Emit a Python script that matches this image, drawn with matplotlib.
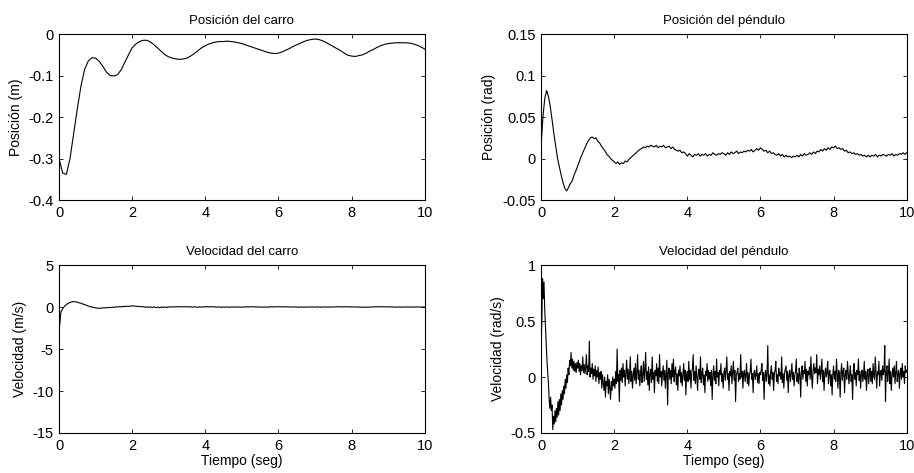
import numpy as np
import matplotlib.pyplot as plt
from matplotlib.ticker import FuncFormatter

plt.rcParams['font.family'] = ['Liberation Sans', 'DejaVu Sans']
plt.rcParams['axes.unicode_minus'] = False

FIGSIZE = (9.14, 4.73)
DPI = 100
TITLE_FS = 9.5
LABEL_FS = 10
TICK_FS = 10.5

# cart position (m), sampled every 0.1 s
cart_pos = [
    -0.300, -0.335, -0.338, -0.300, -0.240, -0.180, -0.125, -0.085, -0.065, -0.057,
    -0.058, -0.066, -0.078, -0.092, -0.100, -0.101, -0.098, -0.086, -0.068, -0.050,
    -0.033, -0.024, -0.018, -0.015, -0.015, -0.019, -0.026, -0.034, -0.042, -0.050,
    -0.055, -0.058, -0.060, -0.061, -0.060, -0.058, -0.053, -0.047, -0.040, -0.033,
    -0.028, -0.024, -0.021, -0.019, -0.018, -0.018, -0.017, -0.018, -0.019, -0.021,
    -0.023, -0.026, -0.029, -0.032, -0.035, -0.038, -0.041, -0.044, -0.046, -0.047,
    -0.046, -0.043, -0.039, -0.035, -0.030, -0.026, -0.022, -0.018, -0.015, -0.013,
    -0.012, -0.013, -0.016, -0.020, -0.025, -0.030, -0.035, -0.040, -0.046, -0.051,
    -0.053, -0.054, -0.052, -0.050, -0.046, -0.041, -0.037, -0.032, -0.028, -0.025,
    -0.023, -0.022, -0.021, -0.021, -0.021, -0.021, -0.022, -0.024, -0.027, -0.031,
    -0.036,
]
t_cart_pos = np.linspace(0, 10, len(cart_pos))

# pendulum position (rad), sampled every 0.05 s
pend_pos = [
    0.015, 0.050, 0.072, 0.082, 0.075, 0.063, 0.047, 0.030, 0.015, 0.000,
    -0.010, -0.020, -0.029, -0.036, -0.039, -0.035, -0.030, -0.027, -0.020, -0.015,
    -0.009, -0.003, 0.003, 0.008, 0.013, 0.018, 0.022, 0.025, 0.026, 0.024,
    0.025, 0.021, 0.019, 0.015, 0.012, 0.009, 0.005, 0.003, 0.000, -0.002,
    -0.004, -0.006, -0.004, -0.007, -0.005, -0.006, -0.003, -0.004, -0.001, 0.001,
    0.003, 0.005, 0.007, 0.009, 0.011, 0.012, 0.014, 0.013, 0.015, 0.014,
    0.016, 0.015, 0.014, 0.016, 0.013, 0.015, 0.014, 0.016, 0.013, 0.014,
    0.015, 0.012, 0.014, 0.011, 0.010, 0.009, 0.010, 0.007, 0.008, 0.006,
    0.003, 0.006, 0.004, 0.002, 0.005, 0.004, 0.006, 0.003, 0.005, 0.004,
    0.006, 0.003, 0.005, 0.004, 0.007, 0.005, 0.004, 0.006, 0.005, 0.007,
    0.006, 0.004, 0.007, 0.005, 0.008, 0.006, 0.007, 0.009, 0.006, 0.008,
    0.007, 0.009, 0.008, 0.010, 0.009, 0.011, 0.008, 0.010, 0.012, 0.010,
    0.013, 0.011, 0.009, 0.010, 0.007, 0.009, 0.006, 0.007, 0.005, 0.004,
    0.006, 0.003, 0.005, 0.002, 0.004, 0.002, 0.003, 0.001, 0.003, 0.002,
    0.004, 0.002, 0.005, 0.003, 0.006, 0.004, 0.005, 0.007, 0.005, 0.008,
    0.006, 0.009, 0.008, 0.011, 0.009, 0.012, 0.010, 0.013, 0.011, 0.014,
    0.013, 0.015, 0.012, 0.013, 0.011, 0.012, 0.009, 0.010, 0.007, 0.008,
    0.006, 0.007, 0.005, 0.006, 0.004, 0.005, 0.003, 0.004, 0.002, 0.004,
    0.002, 0.004, 0.003, 0.005, 0.002, 0.004, 0.003, 0.005, 0.004, 0.003,
    0.005, 0.004, 0.006, 0.003, 0.005, 0.004, 0.006, 0.005, 0.007, 0.005,
    0.007,
]
t_pend_pos = np.linspace(0, 10, len(pend_pos))

# cart velocity (m/s), sampled every 0.05 s
cart_vel = [
    -3.00, -0.60, -0.20, 0.10, 0.30, 0.45, 0.55, 0.62, 0.65, 0.62,
    0.58, 0.50, 0.45, 0.36, 0.30, 0.20, 0.12, 0.05, 0.00, -0.05,
    -0.10, -0.12, -0.15, -0.13, -0.12, -0.08, -0.10, -0.05, -0.06, -0.02,
    -0.04, 0.02, 0.00, 0.05, 0.03, 0.08, 0.06, 0.10, 0.08, 0.12,
    0.15, 0.10, 0.12, 0.06, 0.08, 0.02, 0.05, -0.02, 0.03, -0.04,
    0.01, -0.05, 0.02, -0.06, -0.01, -0.08, 0.00, -0.05, 0.02, -0.06,
    0.03, -0.02, 0.04, 0.00, 0.05, 0.02, 0.06, 0.01, 0.04, 0.03,
    0.05, 0.00, 0.04, -0.02, 0.03, 0.01, -0.03, 0.02, -0.01, 0.03,
    0.02, 0.04, 0.01, 0.05, 0.02, 0.03, -0.01, 0.02, 0.00, -0.03,
    0.01, -0.02, 0.02, -0.04, 0.01, -0.01, 0.02, -0.02, 0.00, 0.01,
    -0.02, 0.02, 0.00, 0.03, 0.01, 0.04, 0.02, 0.03, 0.00, 0.02,
    -0.01, 0.01, -0.03, 0.02, -0.02, 0.00, 0.03, 0.01, 0.04, 0.02,
    0.03, 0.05, 0.01, 0.04, 0.02, 0.03, 0.00, 0.02, -0.01, 0.02,
    0.00, -0.02, 0.01, 0.00, -0.03, 0.01, -0.01, 0.02, 0.00, 0.01,
    -0.01, 0.02, 0.00, -0.02, 0.01, 0.00, 0.02, -0.01, 0.01, 0.00,
    0.01, 0.03, 0.02, 0.04, 0.01, 0.03, 0.02, 0.04, 0.02, 0.01,
    0.03, 0.00, 0.02, -0.01, 0.01, -0.02, 0.00, -0.03, -0.01, -0.02,
    0.00, 0.02, 0.01, 0.03, 0.02, 0.04, 0.03, 0.02, 0.04, 0.01,
    0.03, 0.02, 0.00, 0.01, -0.01, 0.00, 0.01, 0.00, -0.01, 0.00,
    0.01, 0.00, 0.00, -0.01, 0.00, 0.00, 0.01, 0.00, 0.00, 0.00,
    0.00,
]
t_cart_vel = np.linspace(0, 10, len(cart_vel))

# pendulum velocity (rad/s), sampled every 0.02 s
pend_vel = [
    # 0 - 1 s
    0.27, 0.50, 0.88, 0.70, 0.85, 0.60, 0.45, 0.30, 0.15, 0.05,
    -0.05, -0.20, -0.28, -0.18, -0.30, -0.25, -0.47, -0.35, -0.42, -0.30,
    -0.40, -0.28, -0.36, -0.22, -0.34, -0.20, -0.30, -0.15, -0.25, -0.12,
    -0.20, -0.08, -0.15, -0.02, -0.10, 0.02, -0.05, 0.08, 0.02, 0.15,
    0.10, 0.22, 0.08, 0.16, 0.06, 0.14, 0.05, 0.12, 0.04, 0.13,
    # 1 - 2 s
    0.08, 0.15, 0.05, 0.12, 0.02, 0.10, 0.06, 0.18, 0.04, 0.11,
    0.03, 0.09, 0.20, 0.02, 0.10, 0.05, 0.32, 0.00, 0.08, 0.03,
    0.12, -0.02, 0.07, 0.01, 0.10, -0.04, 0.06, 0.00, 0.09, -0.06,
    0.04, -0.02, 0.05, -0.10, 0.02, -0.05, -0.12, 0.00, -0.18, -0.04,
    -0.08, 0.02, -0.15, -0.02, -0.10, -0.20, -0.04, -0.12, 0.00, -0.08,
    # 2 - 3 s
    -0.02, -0.10, 0.05, -0.06, 0.25, -0.04, 0.02, -0.22, 0.06, -0.03,
    0.08, -0.05, 0.12, 0.00, 0.06, -0.08, 0.04, 0.15, -0.02, 0.07,
    -0.06, 0.03, 0.18, -0.04, 0.05, -0.10, 0.02, 0.08, -0.03, 0.12,
    -0.06, 0.04, 0.20, -0.02, 0.06, -0.08, 0.03, 0.10, -0.05, 0.02,
    0.14, -0.04, 0.06, 0.22, -0.02, 0.05, -0.07, 0.09, -0.12, 0.03,
    # 3 - 4 s
    0.07, -0.05, 0.18, -0.02, 0.04, -0.14, 0.06, 0.01, 0.12, -0.04,
    0.08, -0.06, 0.20, 0.00, 0.05, -0.08, 0.03, 0.10, -0.03, 0.06,
    -0.10, 0.02, 0.15, -0.25, 0.04, 0.08, -0.02, 0.06, -0.06, 0.12,
    0.00, 0.16, -0.04, 0.05, 0.09, -0.07, 0.03, -0.12, 0.06, 0.01,
    0.10, -0.05, 0.04, -0.08, 0.02, 0.12, -0.03, 0.06, -0.16, 0.02,
    # 4 - 5 s
    0.05, -0.04, 0.14, -0.02, 0.06, -0.10, 0.03, 0.08, 0.20, -0.03,
    0.05, -0.06, 0.10, 0.00, -0.12, 0.04, 0.07, -0.02, 0.18, -0.05,
    0.03, 0.08, -0.07, 0.02, -0.14, 0.05, 0.01, 0.12, -0.04, 0.06,
    -0.02, 0.04, -0.08, 0.06, -0.20, 0.02, 0.10, -0.03, 0.05, -0.06,
    0.16, 0.00, 0.04, -0.08, 0.06, 0.02, 0.12, -0.04, 0.03, -0.10,
    # 5 - 6 s
    0.04, 0.08, -0.03, 0.06, 0.18, -0.02, 0.03, -0.12, 0.05, 0.01,
    0.10, -0.06, 0.04, 0.14, -0.03, 0.06, -0.22, 0.02, 0.04, 0.08,
    -0.04, 0.03, -0.02, 0.20, 0.00, 0.05, -0.10, 0.03, 0.06, -0.04,
    0.02, 0.12, -0.06, 0.04, -0.08, 0.02, 0.05, 0.16, -0.02, 0.03,
    -0.14, 0.04, 0.06, -0.02, 0.02, 0.10, -0.05, 0.03, -0.06, 0.04,
    # 6 - 7 s
    0.02, 0.06, 0.12, -0.03, 0.04, -0.20, 0.02, 0.06, -0.04, 0.03,
    0.28, -0.06, 0.02, -0.08, 0.05, 0.10, -0.02, 0.04, -0.12, 0.03,
    0.06, 0.14, -0.04, 0.02, -0.06, 0.08, 0.01, 0.04, -0.02, 0.18,
    -0.05, 0.03, -0.10, 0.04, 0.07, 0.10, -0.03, 0.05, -0.14, 0.02,
    0.06, -0.04, 0.03, 0.12, -0.02, 0.04, -0.08, 0.02, 0.05, 0.16,
    # 7 - 8 s
    -0.04, 0.03, -0.06, 0.08, 0.02, -0.18, 0.05, 0.10, -0.02, 0.06,
    0.03, 0.14, -0.04, 0.07, -0.08, 0.05, 0.02, 0.09, -0.02, 0.18,
    0.01, -0.10, 0.06, 0.12, 0.03, 0.08, 0.04, 0.20, -0.06, 0.07,
    0.02, 0.10, -0.02, 0.05, 0.16, -0.04, 0.06, -0.12, 0.03, 0.08,
    0.00, 0.05, 0.14, -0.06, 0.04, 0.06, -0.08, 0.02, -0.16, 0.03,
    # 8 - 9 s
    0.10, -0.02, 0.05, -0.04, 0.16, 0.02, -0.10, 0.06, 0.03, -0.18,
    0.04, 0.12, -0.03, 0.05, 0.08, -0.14, 0.02, 0.06, -0.02, 0.14,
    0.04, -0.06, 0.03, 0.10, -0.04, 0.02, -0.20, 0.05, 0.12, -0.02,
    0.04, -0.08, 0.06, 0.02, 0.16, -0.03, 0.05, -0.10, 0.03, 0.06,
    -0.04, 0.02, 0.14, -0.02, 0.05, -0.12, 0.03, 0.07, -0.06, 0.02,
    # 9 - 10 s
    0.08, -0.04, 0.05, -0.06, 0.12, 0.01, -0.02, 0.18, 0.03, -0.10,
    0.05, 0.02, 0.14, -0.08, 0.04, 0.06, -0.03, 0.10, 0.02, 0.06,
    0.28, -0.22, 0.04, 0.10, -0.04, 0.03, 0.16, -0.06, 0.05, -0.12,
    0.02, 0.08, 0.00, 0.10, -0.06, 0.04, 0.14, -0.04, 0.02, 0.06,
    -0.10, 0.03, 0.08, -0.02, 0.12, 0.00, 0.05, -0.06, 0.10, 0.04,
    0.06,
]
t_pend_vel = np.linspace(0, 10, len(pend_vel))

panels = [
    (t_cart_pos, cart_pos, 'Posición del carro', 'Posición (m)',
     (-0.4, 0), np.arange(-0.4, 0.01, 0.1), False),
    (t_pend_pos, pend_pos, 'Posición del péndulo', 'Posición (rad)',
     (-0.05, 0.15), np.arange(-0.05, 0.151, 0.05), False),
    (t_cart_vel, cart_vel, 'Velocidad del carro', 'Velocidad (m/s)',
     (-15, 5), np.arange(-15, 6, 5), True),
    (t_pend_vel, pend_vel, 'Velocidad del péndulo', 'Velocidad (rad/s)',
     (-0.5, 1), np.arange(-0.5, 1.01, 0.5), True),
]

# axes boxes in figure fractions (left, bottom, width, height)
boxes = [
    (0.0646, 0.577, 0.400, 0.351),
    (0.592, 0.577, 0.400, 0.351),
    (0.0646, 0.0846, 0.400, 0.355),
    (0.592, 0.0846, 0.400, 0.355),
]

fmt = FuncFormatter(lambda v, pos: '{:g}'.format(round(v, 4) + 0.0))

fig = plt.figure(figsize=FIGSIZE, dpi=DPI)
for box, (t, y, title, ylabel, ylim, yticks, bottom) in zip(boxes, panels):
    ax = fig.add_axes(box)
    ax.plot(t, y, color='black', linewidth=0.8)
    ax.set_xlim(0, 10)
    ax.set_ylim(*ylim)
    ax.set_xticks(np.arange(0, 11, 2))
    ax.set_yticks(yticks)
    ax.xaxis.set_major_formatter(fmt)
    ax.yaxis.set_major_formatter(fmt)
    ax.set_title(title, fontsize=TITLE_FS, pad=7)
    ax.set_ylabel(ylabel, fontsize=LABEL_FS)
    if bottom:
        ax.set_xlabel('Tiempo (seg)', fontsize=LABEL_FS, labelpad=1)
    ax.tick_params(direction='in', top=True, right=True, length=3,
                   width=0.6, labelsize=TICK_FS, pad=4)
    for s in ax.spines.values():
        s.set_linewidth(0.8)

fig.savefig('out.png', dpi=DPI)
